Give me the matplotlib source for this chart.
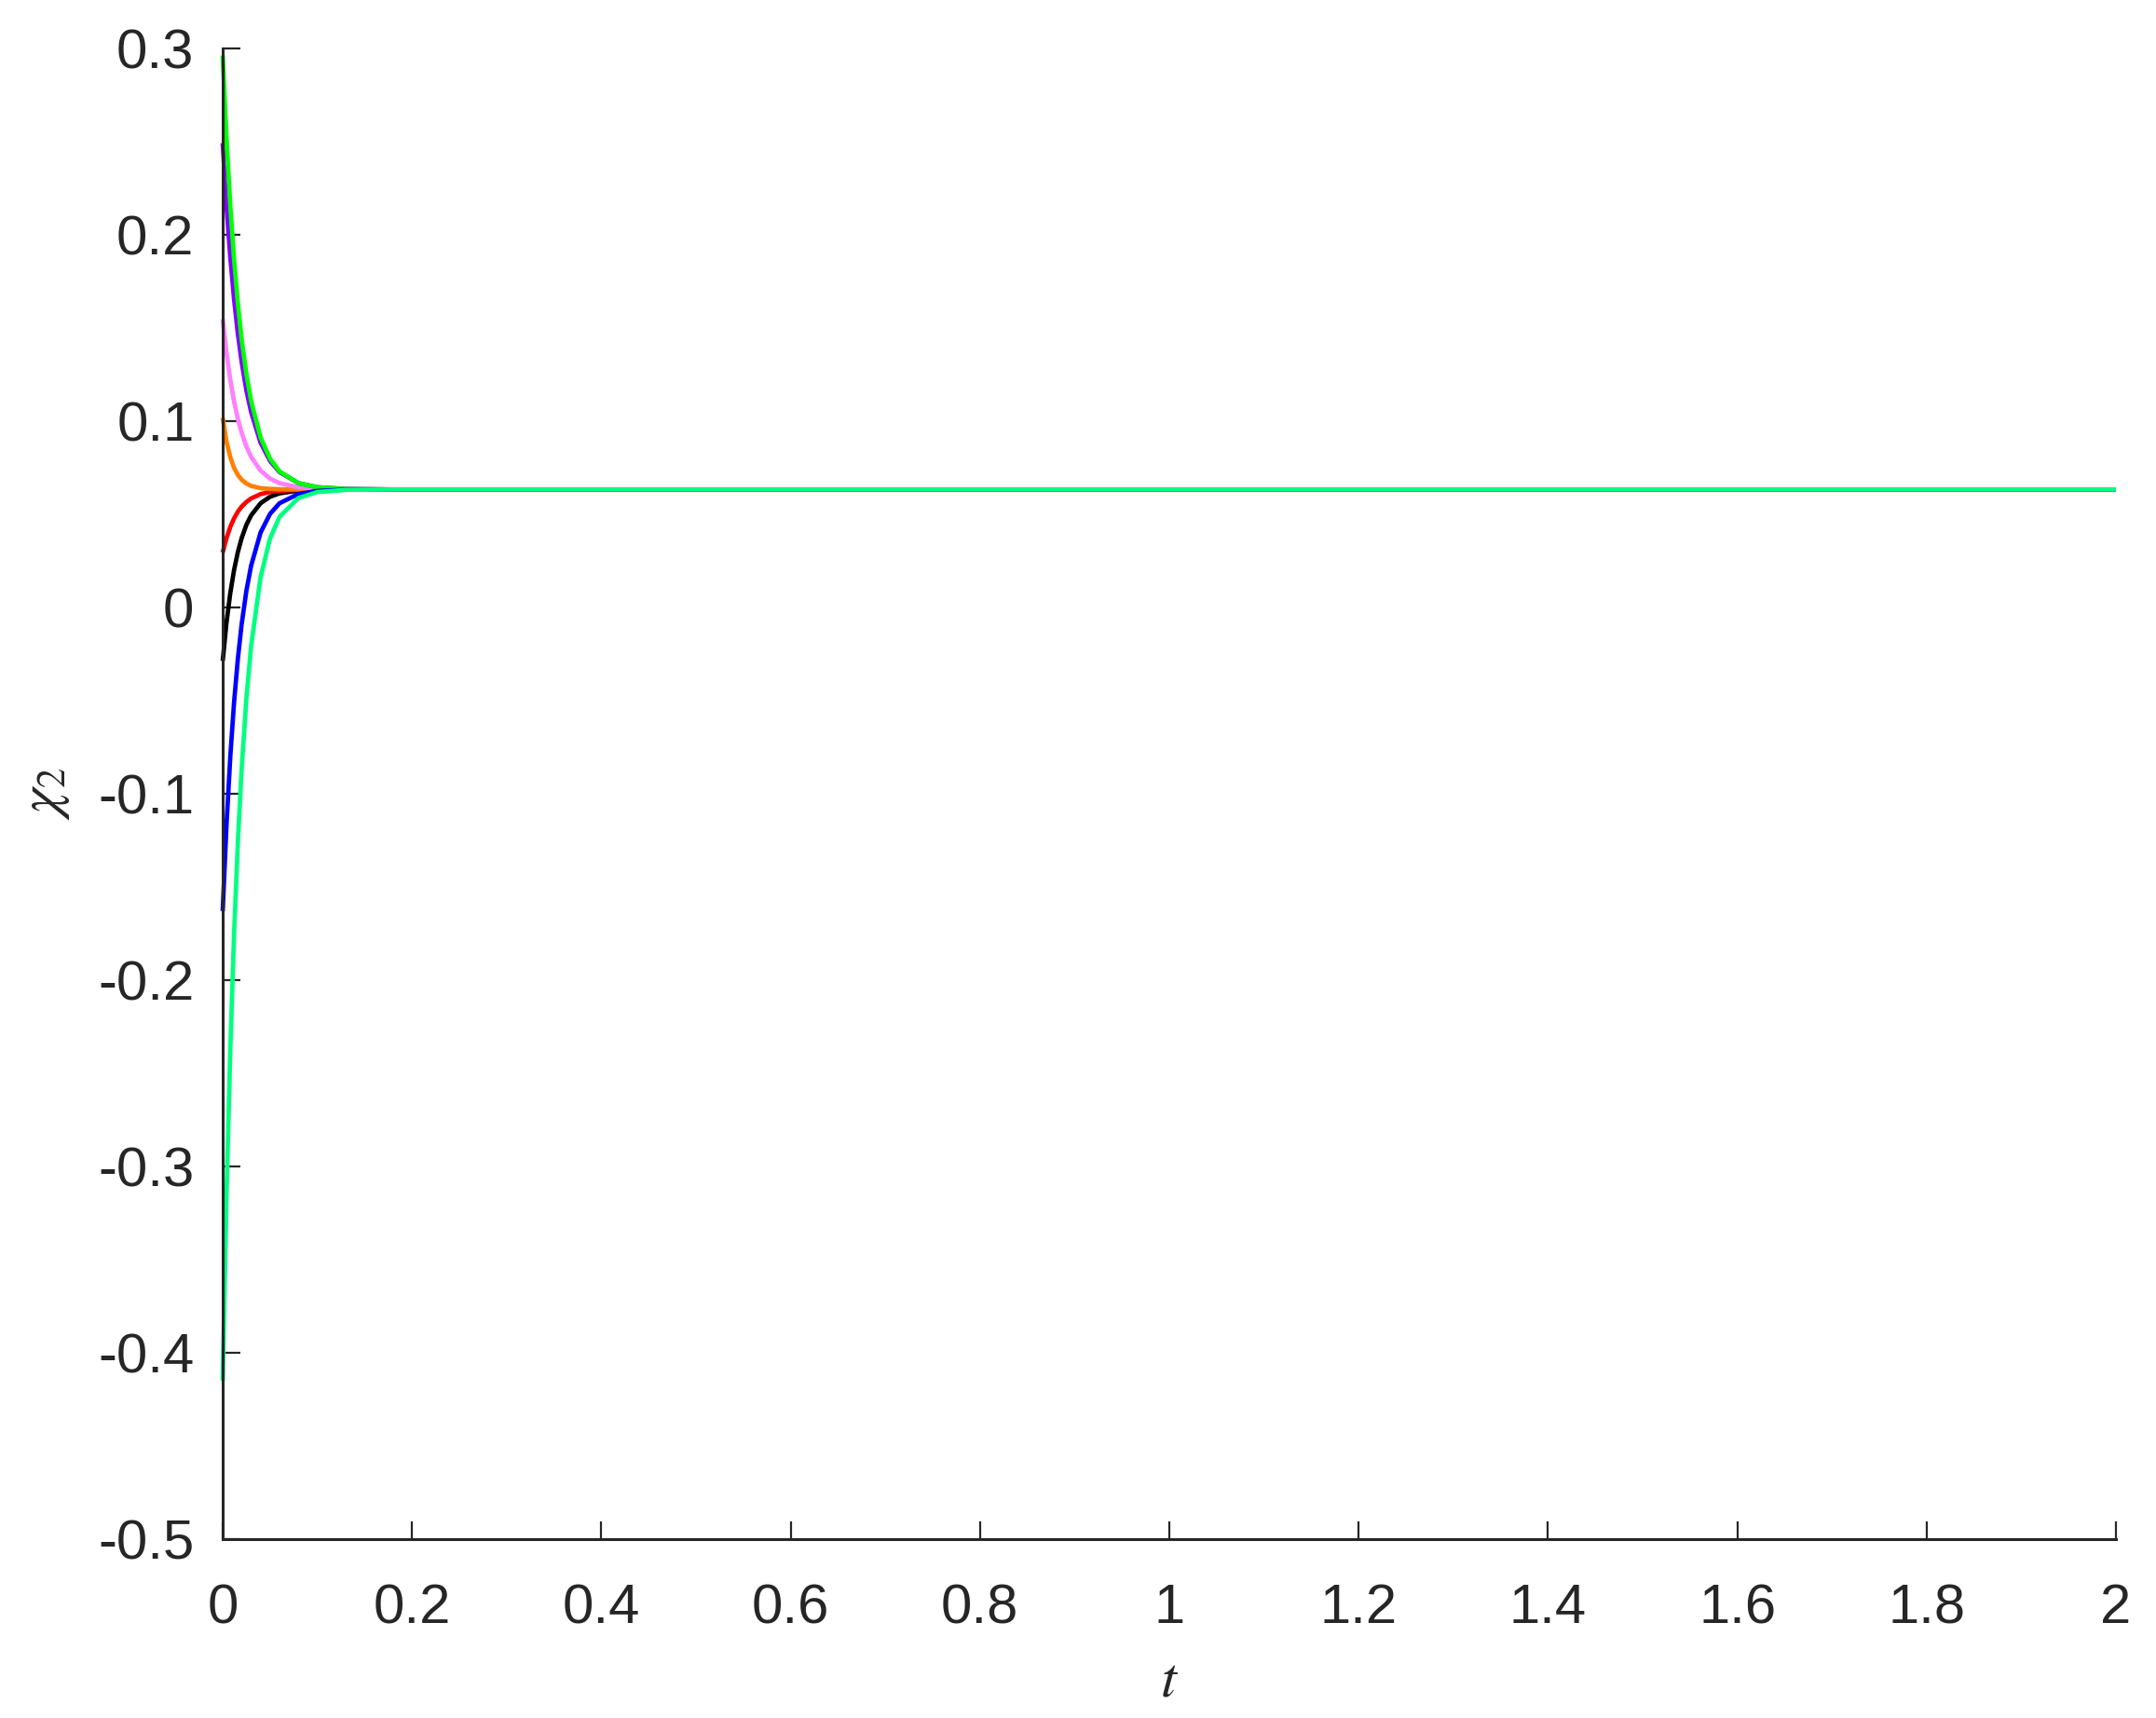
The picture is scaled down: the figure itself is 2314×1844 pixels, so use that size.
import matplotlib
matplotlib.use('Agg')
import matplotlib.pyplot as plt

# time samples (s) and the trajectories
t = [0, 0.004, 0.008, 0.012, 0.016, 0.02, 0.025, 0.03, 0.04, 0.05,
     0.06, 0.08, 0.1, 0.13, 0.18, 2.0]

chi_green = [0.296, 0.2515, 0.2155, 0.1864, 0.1629, 0.1438, 0.1251, 0.1107,
             0.0911, 0.0797, 0.0729, 0.0666, 0.0644, 0.0634, 0.0632, 0.0632]
chi_purple = [0.249, 0.2153, 0.1877, 0.1652, 0.1467, 0.1316, 0.1164, 0.1047,
              0.0883, 0.0785, 0.0725, 0.0666, 0.0644, 0.0635, 0.0632, 0.0632]
chi_pink = [0.1545, 0.1365, 0.1220, 0.1104, 0.1011, 0.0936, 0.0863, 0.0807,
            0.0733, 0.0690, 0.0666, 0.0643, 0.0636, 0.0633, 0.0632, 0.0632]
chi_orange = [0.1016, 0.0889, 0.0805, 0.0748, 0.0710, 0.0684, 0.0664, 0.0651,
              0.0639, 0.0635, 0.0633, 0.0632, 0.0632, 0.0632, 0.0632, 0.0632]
chi_red = [0.0294, 0.0371, 0.0431, 0.0477, 0.0513, 0.0540, 0.0565, 0.0584,
           0.0607, 0.0619, 0.0625, 0.0630, 0.0631, 0.0632, 0.0632, 0.0632]
chi_black = [-0.0288, -0.0083, 0.0076, 0.0200, 0.0296, 0.0371, 0.0442, 0.0493,
             0.0558, 0.0593, 0.0611, 0.0626, 0.0630, 0.0632, 0.0632, 0.0632]
chi_blue = [-0.1630, -0.1169, -0.0802, -0.0509, -0.0277, -0.0091, 0.0088, 0.0223,
            0.0401, 0.0501, 0.0558, 0.0608, 0.0624, 0.0631, 0.0632, 0.0632]
chi_spring = [-0.4150, -0.3160, -0.2375, -0.1752, -0.1258, -0.0867, -0.0490, -0.0207,
              0.0162, 0.0369, 0.0485, 0.0586, 0.0618, 0.0630, 0.0632, 0.0632]

x_ticks = [0, 0.2, 0.4, 0.6, 0.8, 1, 1.2, 1.4, 1.6, 1.8, 2]
x_labels = ['0', '0.2', '0.4', '0.6', '0.8', '1', '1.2', '1.4', '1.6', '1.8', '2']
y_ticks = [-0.5, -0.4, -0.3, -0.2, -0.1, 0, 0.1, 0.2, 0.3]
y_labels = ['-0.5', '-0.4', '-0.3', '-0.2', '-0.1', '0', '0.1', '0.2', '0.3']

plt.rcParams['font.family'] = ['Liberation Sans', 'DejaVu Sans']
plt.rcParams['mathtext.fontset'] = 'stix'

fig = plt.figure(figsize=(23.14, 18.44), dpi=100)
ax = fig.add_axes([0.1033, 0.1041, 0.8781, 0.8679])

curves = [
    (chi_black, 'black'),
    (chi_red, '#ff0000'),
    (chi_orange, '#ff8000'),
    (chi_pink, '#ff80ff'),
    (chi_purple, '#8000ff'),
    (chi_green, '#00ff00'),
    (chi_blue, '#0000ff'),
    (chi_spring, '#00ff80'),
]
for values, col in curves:
    ax.plot(t, values, color=col, lw=3.4, clip_on=False, solid_capstyle='butt')

ax.set_xlim(0, 2)
ax.set_ylim(-0.5, 0.3)
ax.set_xticks(x_ticks)
ax.set_xticklabels(x_labels)
ax.set_yticks(y_ticks)
ax.set_yticklabels(y_labels)

for side in ['top', 'right']:
    ax.spines[side].set_visible(False)
for side in ['left', 'bottom']:
    ax.spines[side].set_linewidth(2.2)
    ax.spines[side].set_color('#262626')

ax.tick_params(direction='in', length=14, width=1.6, color='#262626',
               labelsize=43, labelcolor='#262626')
ax.tick_params(axis='x', pad=34)
ax.tick_params(axis='y', pad=22)

ax.set_xlabel(r'$t$', fontsize=44, color='#262626', labelpad=16)
ax.set_ylabel(r'$\chi_2$', fontsize=44, color='#262626', labelpad=20)

fig.savefig('out.png', dpi=100, facecolor='white')
